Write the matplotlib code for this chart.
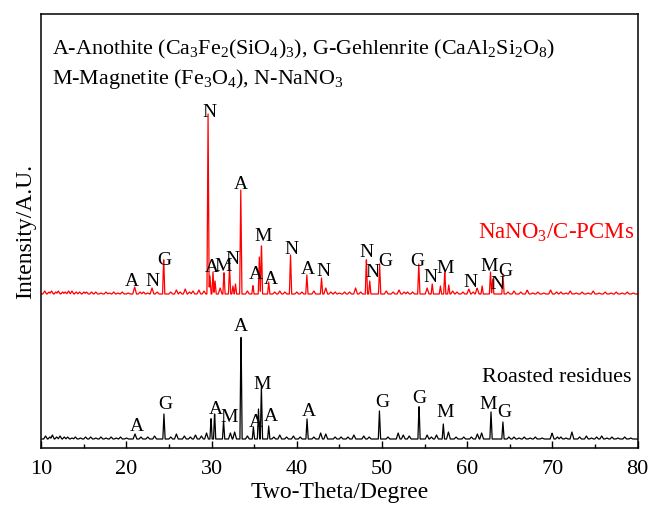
import matplotlib.pyplot as plt
import numpy as np
from matplotlib.ticker import MultipleLocator

plt.rcParams['font.family'] = 'Liberation Serif'
plt.rcParams['mathtext.fontset'] = 'custom'
plt.rcParams['mathtext.rm'] = 'Liberation Serif'
plt.rcParams['mathtext.it'] = 'Liberation Serif:italic'

# NaNO3/C-PCMs pattern: peak positions (2-theta) and heights (a.u.)
pcm_pos = [10.4, 10.9, 11.2, 11.7, 12.0, 12.5, 12.8, 13.2, 13.6, 14.1, 14.5, 15.0,
           15.3, 15.9, 16.4, 17.0, 17.6, 18.0, 18.5, 19.0, 19.5, 20.2,
           20.96, 21.6, 22.0, 22.5, 23.0, 23.6, 24.37, 25.2, 25.86, 26.3, 26.9,
           27.4, 27.8, 28.5, 29.1, 29.58, 29.8,
           30.16, 30.4, 31.0, 31.45, 32.1, 32.5, 32.8, 33.42, 34.2, 34.85, 35.6, 35.85,
           36.7, 37.4, 38.0, 38.6, 39.26, 40.0, 40.6, 41.18, 42.0, 42.9, 43.4, 44.0,
           44.5, 45.0, 45.6, 46.2, 46.9, 47.5, 48.17,
           48.56, 49.72, 50.5, 51.3, 52.0, 52.6, 53.0, 53.6, 54.32, 55.3, 55.9, 56.86,
           57.37, 57.84, 58.3, 58.8, 59.5, 60.19, 60.7, 61.17, 61.76, 62.74, 63.0, 64.2,
           64.8, 65.5, 66.3, 67.05, 67.7, 68.3, 69.0, 69.8, 70.5, 71.0, 71.6, 72.1,
           72.8, 73.5, 74.2, 74.8, 75.5, 76.2, 76.9, 77.5, 78.2, 78.8, 79.5]
pcm_h = [3, 2, 3, 2, 3, 2, 2, 3, 3, 2, 2, 2,
         2, 2, 2, 1, 2, 1, 2, 1, 2, 1,
         7, 2, 2, 1, 6, 2, 37, 2, 4, 2, 5,
         2, 3, 4, 3, 180, 18,
         22, 13, 6, 23, 27, 8, 10, 104, 3, 9, 37, 52,
         12, 2, 3, 2, 39, 2, 2, 19, 3, 16, 6, 2,
         2, 1, 2, 2, 6, 2, 37,
         13, 30, 3, 2, 4, 2, 2, 2, 30, 6, 10, 8,
         23, 9, 3, 2, 2, 5, 2, 6, 8, 22, 15, 20,
         2, 3, 2, 4, 1, 2, 1, 4, 2, 2, 1, 3,
         1, 2, 1, 3, 1, 2, 1, 2, 1, 2, 1]

# Roasted residues pattern
res_pos = [10.5, 11.0, 11.3, 11.8, 12.2, 12.7, 13.1, 13.6, 14.0, 14.6, 15.2, 15.8,
           16.4, 17.0, 17.6, 18.2, 18.8, 19.3, 20.0, 21.0, 21.7,
           22.5, 23.3, 24.4, 25.2, 25.86, 26.8, 27.5, 28.1, 28.8, 29.4, 29.93, 30.35, 31.4,
           32.2, 32.7, 33.45, 34.2, 34.9, 35.5, 35.84, 36.7, 37.3, 38.0, 38.8, 39.6, 40.4,
           41.2, 42.0, 42.8, 43.4, 44.5, 45.2, 46.0, 46.7, 47.86, 48.5, 49.7, 50.7, 51.9,
           52.5, 53.2, 54.35, 55.3, 55.8, 56.4, 57.2, 57.8, 58.7, 59.6, 60.5,
           61.2, 61.7, 62.8, 64.2, 64.9, 65.5, 66.1, 66.7, 67.4, 68.0, 68.8, 69.97, 70.6,
           71.0, 71.6, 72.3, 73.2, 74.0, 74.6, 75.2, 75.8, 76.4, 77.0, 77.7, 78.5, 79.2]
res_h = [3, 2, 4, 2, 3, 2, 2, 1, 2, 1, 2, 2,
         1, 2, 1, 2, 1, 2, 1, 5, 2,
         2, 3, 25, 2, 5, 3, 2, 4, 3, 6, 22, 27, 18,
         6, 7, 110, 3, 12, 30, 52, 13, 2, 4, 2, 3, 2,
         20, 2, 6, 5, 2, 2, 2, 4, 3, 2, 28, 2, 6,
         4, 3, 35, 4, 2, 4, 15, 7, 2, 2, 2,
         5, 6, 27, 17, 2, 2, 1, 2, 1, 2, 1, 6, 2,
         2, 1, 7, 2, 3, 1, 2, 3, 1, 2, 1, 2, 1]

# phase letters: (2-theta, height above own baseline, letter)
pcm_marks = [(20.65, 13, 'A'), (23.0, 13, 'N'), (24.4, 34, 'G'), (29.7, 182, 'N'),
             (29.97, 27, 'A'), (31.34, 28, 'M'), (32.5, 35, 'N'), (33.45, 110, 'A'),
             (35.14, 20, 'A'), (36.0, 58, 'M'), (36.9, 15, 'A'), (39.36, 45, 'N'),
             (41.28, 25, 'A'), (43.08, 23, 'N'), (48.17, 42, 'N'), (48.84, 22, 'N'),
             (50.4, 33, 'G'), (54.2, 33, 'G'), (55.69, 17, 'N'), (57.45, 26, 'M'),
             (60.39, 12, 'N'), (62.54, 28, 'M'), (63.6, 10, 'N'), (64.5, 23, 'G')]
res_marks = [(21.24, 13, 'A'), (24.56, 35, 'G'), (30.44, 30, 'A'), (32.0, 22, 'M'),
             (33.45, 113, 'A'), (35.9, 55, 'M'), (35.2, 17, 'A'), (36.9, 23, 'A'),
             (41.4, 28, 'A'), (50.0, 37, 'G'), (54.4, 41, 'G'), (57.45, 27, 'M'),
             (62.5, 35, 'M'), (64.4, 27, 'G')]

pcm_base = 154
res_base = 9


def trace(pos, h, x):
    y = np.zeros_like(x)
    for p, v in zip(pos, h):
        w = 0.13 if v >= 8 else 0.22
        y = np.maximum(y, v * np.clip(1 - np.abs(x - p) / w, 0, None))
    return y


tt = np.linspace(10, 80, 3501)

fig = plt.figure(figsize=(6.52, 5.06), dpi=100)
ax = fig.add_axes([41.3 / 652, 57 / 506, 596.2 / 652, 434 / 506])

ax.plot(tt, trace(pcm_pos, pcm_h, tt) + pcm_base, color='red', lw=0.9)
ax.plot(tt, trace(res_pos, res_h, tt) + res_base, color='black', lw=0.9)

for x, yh, s in pcm_marks:
    ax.text(x, pcm_base + yh, s, ha='center', va='center', fontsize=14)
for x, yh, s in res_marks:
    ax.text(x, res_base + yh, s, ha='center', va='center', fontsize=14)

ax.text(0.995, 0.497, 'NaNO$_\\mathregular{3}$/C-PCMs', color='red', fontsize=16.5,
        ha='right', va='center', transform=ax.transAxes)
ax.text(0.99, 0.165, 'Roasted residues', fontsize=16,
        ha='right', va='center', transform=ax.transAxes)

ax.text(0.018, 0.908,
        'A-Anothite (Ca$_\\mathregular{3}$Fe$_\\mathregular{2}$(SiO$_\\mathregular{4}$)$_\\mathregular{3}$), '
        'G-Gehlenrite (CaAl$_\\mathregular{2}$Si$_\\mathregular{2}$O$_\\mathregular{8}$)',
        fontsize=15.8, ha='left', va='baseline', transform=ax.transAxes)
ax.text(0.018, 0.84,
        'M-Magnetite (Fe$_\\mathregular{3}$O$_\\mathregular{4}$), N-NaNO$_\\mathregular{3}$',
        fontsize=15.8, ha='left', va='baseline', transform=ax.transAxes)

ax.set_xlim(10, 80)
ax.set_ylim(0, 434)
ax.xaxis.set_major_locator(MultipleLocator(10))
ax.xaxis.set_minor_locator(MultipleLocator(5))
ax.tick_params(axis='x', which='both', direction='in', labelsize=16, pad=8)
ax.tick_params(axis='x', which='major', length=5, width=1)
ax.tick_params(axis='x', which='minor', length=3, width=1)
ax.set_yticks([])
for sp in ax.spines.values():
    sp.set_linewidth(1.1)

ax.set_xlabel('Two-Theta/Degree', fontsize=17, labelpad=2)
ax.set_ylabel('Intensity/A.U.', fontsize=17, labelpad=4)

plt.savefig('out.png', dpi=100)
plt.close()
